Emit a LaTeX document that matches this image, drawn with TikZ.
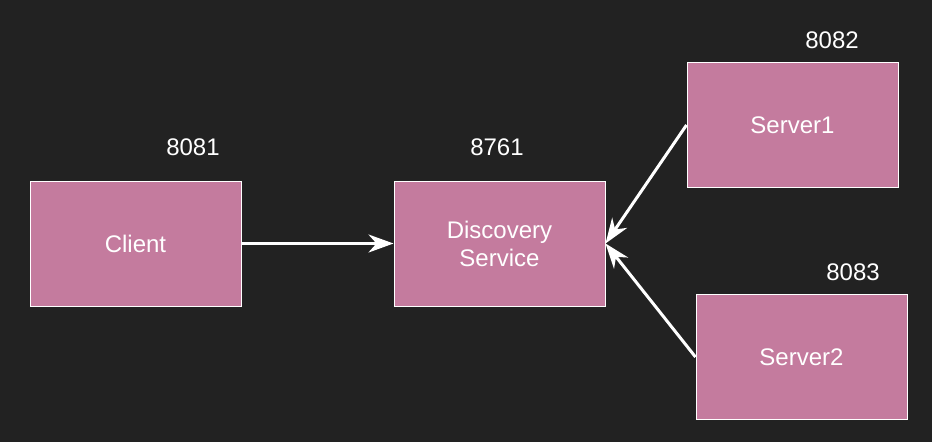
\documentclass[tikz,border=0pt]{standalone}
\usepackage{fontspec}
\setmainfont{Liberation Sans}
\usepackage{xcolor}
\usetikzlibrary{arrows.meta}
\definecolor{bgdark}{HTML}{222222}
\definecolor{boxpink}{HTML}{C47B9E}

\begin{document}
\begin{tikzpicture}[x=1pt,y=-1pt,
  box/.style={draw=white,line width=1pt,fill=boxpink,minimum width=211pt,
    minimum height=125pt,text=white,align=center,
    font=\fontsize{24}{28}\selectfont},
  port/.style={text=white,font=\fontsize{24}{28}\selectfont},
  link/.style={draw=white,line width=3pt,
    -{Stealth[length=25pt,width=18pt,inset=8pt]}}]
  \fill[bgdark] (0,0) rectangle (932,442);

  \node[box] (client) at (135.5,243.5) {Client};
  \node[box] (discovery) at (499.5,243.5) {Discovery\\Service};
  \node[box] (server1) at (792.5,125) {Server1};
  \node[box] (server2) at (801.5,357) {Server2};

  % ports
  \node[port] (pclient) at (193,147) {8081};
  \node[port] (pdiscovery) at (497,147) {8761};
  \node[port] (pserver1) at (832,40) {8082};
  \node[port] (pserver2) at (853,272) {8083};

  \draw[link] (client) -- (discovery);
  \draw[link] (server1.west) -- (discovery.east);
  \draw[link] (server2.west) -- (discovery.east);
\end{tikzpicture}
\end{document}
